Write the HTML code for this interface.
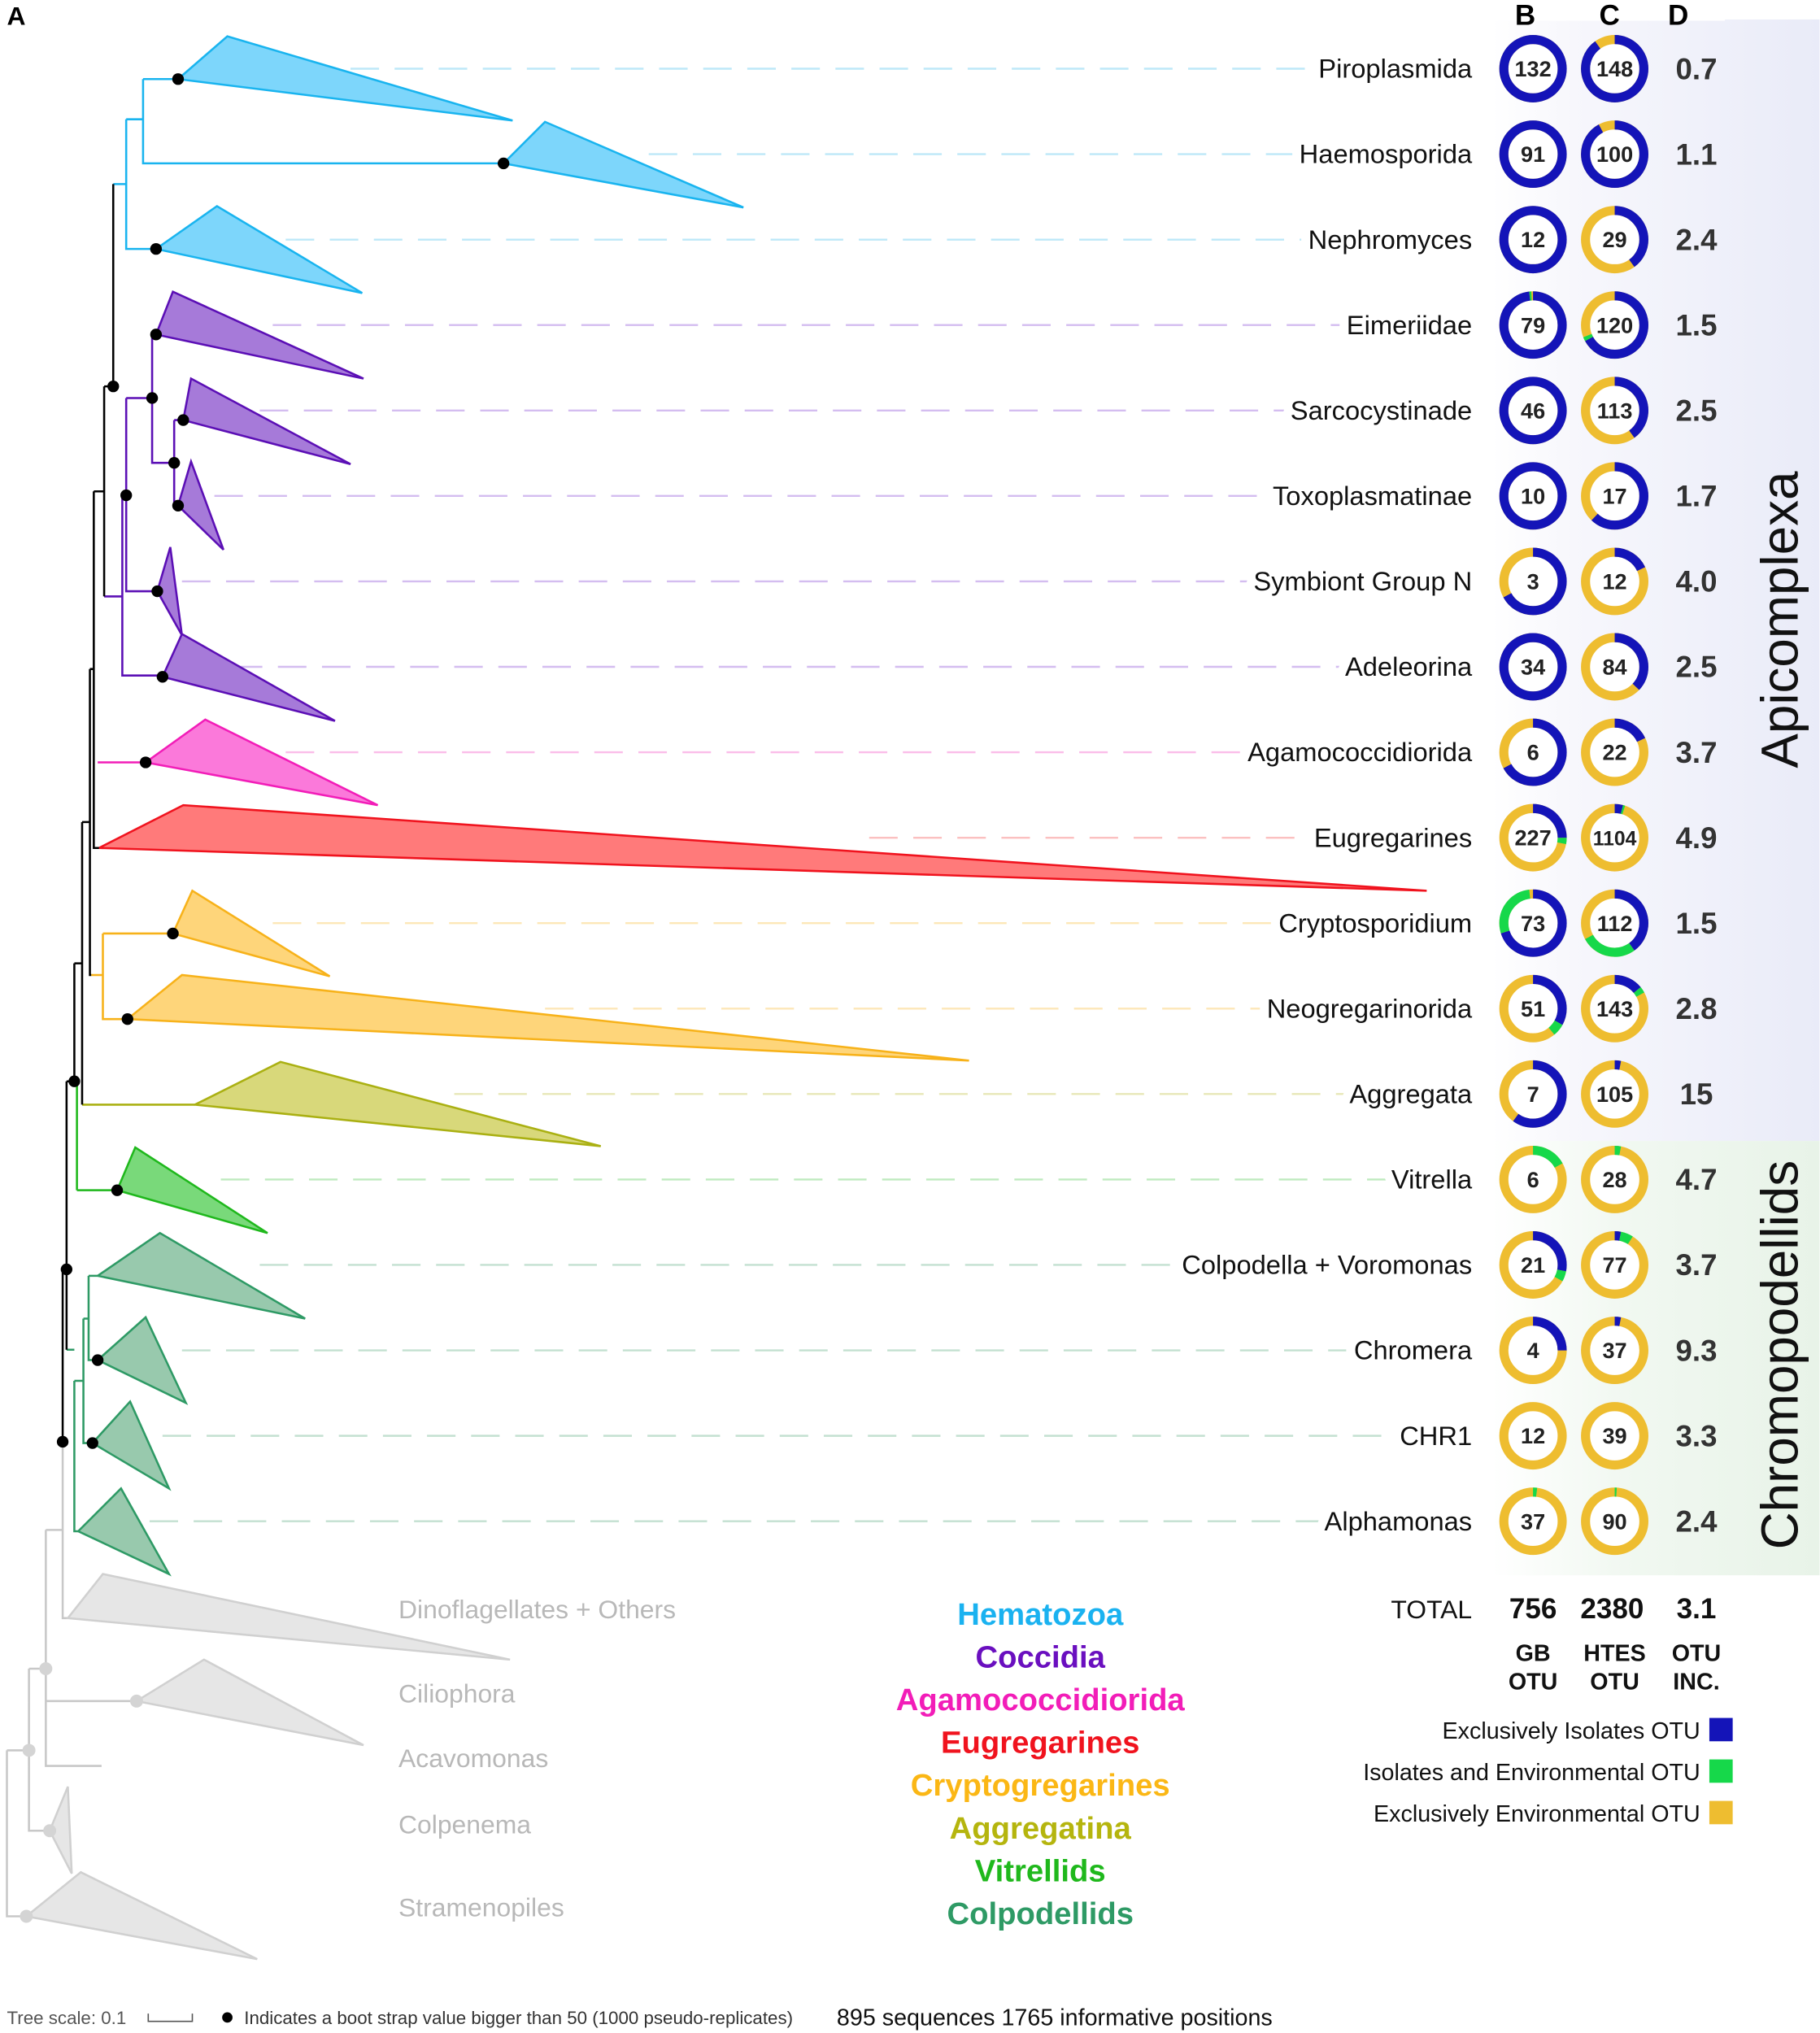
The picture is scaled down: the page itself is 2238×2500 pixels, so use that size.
<!DOCTYPE html>
<html><head><meta charset="utf-8"><style>
html,body{margin:0;padding:0;background:#fff}
svg{display:block}
text{font-family:"Liberation Sans",sans-serif}
</style></head><body>
<svg id="fig" width="2238" height="2500" viewBox="0 0 1403 1568" xmlns="http://www.w3.org/2000/svg">
<defs>
<linearGradient id="gA" x1="0" x2="1"><stop offset="0" stop-color="#fff"/><stop offset="0.25" stop-color="#f7f7fc"/><stop offset="1" stop-color="#e9ebf8"/></linearGradient>
<linearGradient id="gC" x1="0" x2="1"><stop offset="0" stop-color="#fff"/><stop offset="0.4" stop-color="#f1f8f1"/><stop offset="1" stop-color="#e8f3e8"/></linearGradient>
</defs>
<rect x="1150" y="15" width="253" height="865" fill="url(#gA)"/>
<rect x="1150" y="880" width="253" height="335" fill="url(#gC)"/>
<rect x="1150" y="0" width="180" height="16" fill="#fff"/>
<text x="5" y="19" font-size="20" font-weight="bold">A</text>
<text x="1176" y="19" font-size="22" font-weight="bold" text-anchor="middle">B</text>
<text x="1241" y="19" font-size="22" font-weight="bold" text-anchor="middle">C</text>
<text x="1294" y="19" font-size="22" font-weight="bold" text-anchor="middle">D</text>
<text transform="translate(1386,478) rotate(-90)" font-size="40" text-anchor="middle" fill="#111">Apicomplexa</text>
<text transform="translate(1386,1045) rotate(-90)" font-size="40" text-anchor="middle" fill="#111">Chromopodellids</text>

<g id="dashes" stroke-width="1.5" stroke-dasharray="22,12" fill="none"></g>
<g id="tree" fill="none" stroke-width="1.6"></g>
<g id="labels"></g>
<g id="donuts"></g>

<g fill="#b8b8b8" font-size="20">
<text x="307" y="1248">Dinoflagellates + Others</text>
<text x="307" y="1313">Ciliophora</text>
<text x="307" y="1363">Acavomonas</text>
<text x="307" y="1414">Colpenema</text>
<text x="307" y="1478">Stramenopiles</text>
</g>
<g font-size="24" font-weight="bold" text-anchor="middle">
<text x="802" y="1253" fill="#1ab2f0">Hematozoa</text>
<text x="802" y="1286" fill="#6a0fbf">Coccidia</text>
<text x="802" y="1319" fill="#f21db8">Agamococcidiorida</text>
<text x="802" y="1352" fill="#f0131e">Eugregarines</text>
<text x="802" y="1385" fill="#fbb715">Cryptogregarines</text>
<text x="802" y="1418" fill="#b5b50e">Aggregatina</text>
<text x="802" y="1451" fill="#1fb81c">Vitrellids</text>
<text x="802" y="1484" fill="#2e9a65">Colpodellids</text>
</g>
<g fill="#111">
<text x="1135" y="1248" font-size="20" text-anchor="end">TOTAL</text>
<text x="1182" y="1248" font-size="22" font-weight="bold" text-anchor="middle">756</text>
<text x="1243" y="1248" font-size="22" font-weight="bold" text-anchor="middle">2380</text>
<text x="1308" y="1248" font-size="22" font-weight="bold" text-anchor="middle">3.1</text>
<text x="1182" y="1281" font-size="18" font-weight="bold" text-anchor="middle">GB</text>
<text x="1182" y="1303" font-size="18" font-weight="bold" text-anchor="middle">OTU</text>
<text x="1245" y="1281" font-size="18" font-weight="bold" text-anchor="middle">HTES</text>
<text x="1245" y="1303" font-size="18" font-weight="bold" text-anchor="middle">OTU</text>
<text x="1308" y="1281" font-size="18" font-weight="bold" text-anchor="middle">OTU</text>
<text x="1308" y="1303" font-size="18" font-weight="bold" text-anchor="middle">INC.</text>
</g>
<g font-size="18" fill="#111" text-anchor="end">
<text x="1311" y="1341">Exclusively Isolates OTU</text>
<rect x="1318" y="1325" width="18" height="18" fill="#1414b8"/>
<text x="1311" y="1373">Isolates and Environmental OTU</text>
<rect x="1318" y="1357" width="18" height="18" fill="#16d84a"/>
<text x="1311" y="1405">Exclusively Environmental OTU</text>
<rect x="1318" y="1389" width="18" height="18" fill="#eebd30"/>
</g>
<g>
<text x="5" y="1561" font-size="14" fill="#555">Tree scale: 0.1</text>
<path d="M114 1553 V1559 H148 V1553" stroke="#555" fill="none" stroke-width="1"/>
<circle cx="175" cy="1556" r="4" fill="#000"/>
<text x="188" y="1561" font-size="14" fill="#333">Indicates a boot strap value bigger than 50 (1000 pseudo-replicates)</text>
<text x="645" y="1562" font-size="18" fill="#111">895 sequences 1765 informative positions</text>
</g>
</svg>
<script>
const NS="http://www.w3.org/2000/svg";
const clades=["Piroplasmida","Haemosporida","Nephromyces","Eimeriidae","Sarcocystinade","Toxoplasmatinae","Symbiont Group N","Adeleorina","Agamococcidiorida","Eugregarines","Cryptosporidium","Neogregarinorida","Aggregata","Vitrella","Colpodella + Voromonas","Chromera","CHR1","Alphamonas"];
const gbCount=[132,91,12,79,46,10,3,34,6,227,73,51,7,6,21,4,12,37];
const gbBlue=[1,1,1,0.98,1,1,0.67,1,0.67,0.25,0.70,0.33,0.60,0,0.28,0.25,0,0];
const gbGreen=[0,0,0,0.01,0,0,0,0,0,0.03,0.28,0.06,0,0.17,0.05,0,0,0.02];
const htesCount=[148,100,29,120,113,17,12,84,22,1104,112,143,105,28,77,37,39,90];
const htesBlue=[0.9,0.92,0.4,0.67,0.4,0.62,0.18,0.37,0.18,0.04,0.4,0.14,0.03,0,0.03,0.03,0,0];
const htesGreen=[0,0,0,0.02,0,0,0,0,0,0.01,0.27,0.03,0,0.03,0.06,0,0,0.01];
const otuInc=["0.7","1.1","2.4","1.5","2.5","1.7","4.0","2.5","3.7","4.9","1.5","2.8","15","4.7","3.7","9.3","3.3","2.4"];
const cladeColor=["#19b4ef","#19b4ef","#19b4ef","#5b0fb5","#5b0fb5","#5b0fb5","#5b0fb5","#5b0fb5","#f21db8","#f0131e","#f7b21a","#f7b21a","#aab012","#1fb81c","#2e9a65","#2e9a65","#2e9a65","#2e9a65"];
const cladeFill=["#7dd6fb","#7dd6fb","#7dd6fb","#a67ad9","#a67ad9","#a67ad9","#a67ad9","#a67ad9","#fb79da","#ff7a7a","#fed57a","#fed57a","#d8d87a","#79d97a","#98c9ad","#98c9ad","#98c9ad","#98c9ad"];
const tri=[[137,61,175,28,395,93],[388,126,420,94,573,160],[120,192,167,159,279,226],[120,258,133,225,280,292],[141,324,147,292,270,358],[137,390,147,356,172,424],[121,456,131,422,140,490],[125,522,140,489,258,556],[112,588,158,555,291,621],[76,654,141,621,1100,687],[133,720,148,687,254,753],[98,786,140,752,747,818],[150,852,216,819,463,884],[90,918,104,885,206,951],[75,984,123,951,235,1017],[75,1049,112,1016,143,1082],[71,1113,100,1081,130,1148],[60,1181,93,1148,130,1214]];
const dashStart=[270,500,220,210,200,165,140,180,220,670,210,420,350,170,200,140,125,115];
const rowY=i=>53+i*65.9;
function mk(tag,attrs,parent){const e=document.createElementNS(NS,tag);for(const k in attrs)e.setAttribute(k,attrs[k]);parent.appendChild(e);return e;}
const dg=document.getElementById('dashes'),tg=document.getElementById('tree'),lg=document.getElementById('labels'),dn=document.getElementById('donuts');
const light=["#bde8f8","#bde8f8","#bde8f8","#d4bdf0","#d4bdf0","#d4bdf0","#d4bdf0","#d4bdf0","#fbbde9","#fbc0c0","#fde7b8","#fde7b8","#e8e8b8","#bfeabf","#c3e0d1","#c3e0d1","#c3e0d1","#c3e0d1"];
clades.forEach((c,i)=>{
  const y=rowY(i);
  const dl=mk('line',{x1:dashStart[i],y1:y,x2:1130,y2:y,stroke:light[i]},dg);
  
  
  const t=tri[i];
  const p=mk('polygon',{points:`${t[0]},${t[1]} ${t[2]},${t[3]} ${t[4]},${t[5]}`,fill:cladeFill[i],stroke:cladeColor[i],'stroke-width':1.6},tg);
  
  
  const lt=mk('text',{x:1135,y:y+7,'font-size':20.5,'text-anchor':'end',fill:'#111',stroke:'#fff','stroke-width':14,'paint-order':'stroke','stroke-linejoin':'round'},lg);
  lt.textContent=c;
  
  
  const dt=mk('text',{x:1308,y:y+8,'font-size':23,'font-weight':'bold','text-anchor':'middle',fill:'#333'},lg);
  dt.textContent=otuInc[i];
  
  
  [[1182,gbCount,gbBlue,gbGreen],[1245,htesCount,htesBlue,htesGreen]].forEach(([cx,cnt,bl,gr])=>{
    const r=22.5,C=2*Math.PI*r;
    const g=mk('g',{transform:`translate(${cx},${y})`},dn);
    
    
    mk('circle',{r:r,fill:'#fff',stroke:'#eebd30','stroke-width':7},g);
    if(bl[i]>0)mk('circle',{r:r,fill:'none',stroke:'#1414b8','stroke-width':7,'stroke-dasharray':`${bl[i]*C} ${C}`,transform:'rotate(-90)'},g);
    if(gr[i]>0)mk('circle',{r:r,fill:'none',stroke:'#16d84a','stroke-width':7,'stroke-dasharray':`${gr[i]*C} ${C}`,'stroke-dashoffset':-bl[i]*C,transform:'rotate(-90)'},g);
    const nt=mk('text',{y:6,'font-size':cnt[i]>999?15.5:17,'font-weight':'bold','text-anchor':'middle',fill:'#222'},g);
    nt.textContent=cnt[i];
  });
});
const branches=[
["#19b4ef","M110 61 H137 M110 61 V126 H388 M97 92 H110 M97 92 V192 H120 M87 142 H97"],
["#5b0fb5","M117 258 H120 M117 258 V357 H134 M134 324 H141 M134 324 V390 H137 M97 307 H117 M97 307 V456 H121 M94 382 H97 M94 382 V521 H125 M80 460 H94"],
["#f21db8","M75 588 H112"],
["#f7b21a","M79 720 H133 M79 720 V786 H98 M70 752 H79"],
["#aab012","M63 852 H150"],
["#1fb81c","M59 918 H90 M59 834 V918"],
["#2e9a65","M68 984 H75 M68 984 V1049 H75 M64 1017 H68 M64 1017 V1113 H71 M57 1065 H64 M57 1065 V1181 H60 M51 1041 H57"],
["#000","M87 142 V298 M80 298 H87 M80 298 V460 M72 379 H80 M72 379 V654 H76 M69 516 H72 M69 516 V752 H70 M63 634 H69 M63 634 V852 M57 743 H63 M57 743 V834 H59 M51 834 H57 M51 834 V1041 M48 979 H51 M48 979 V1112"],
["#c8c8c8","M48 1112 V1248 H52 M35 1180 H48 M35 1180 V1362 H78 M35 1312 H105 M22 1287 H35 M22 1287 V1412 H38 M5 1350 H22 M5 1350 V1478 H20"]
];
branches.forEach(([col,d],k)=>{const p=mk('path',{d:d,stroke:col},tg);});
[[79,1214,393,1280,52,1248],[157,1280,280,1346,105,1312],[52,1378,55,1445,38,1412],[62,1444,198,1511,20,1478]].forEach((t,k)=>{
  const p=mk('polygon',{points:`${t[4]},${t[5]} ${t[0]},${t[1]} ${t[2]},${t[3]}`,fill:'#e6e6e6',stroke:'#d0d0d0'},tg);
  
  
});
const dots=[[137,61],[388,126],[120,192],[87,298],[120,258],[117,307],[141,324],[134,357],[137,390],[97,382],[121,456],[125,522],[112,588],[133,720],[98,786],[57,834],[90,918],[51,979],[75,1049],[71,1113],[48,1112]];
dots.forEach(([x,y])=>{const c=mk('circle',{cx:x,cy:y,r:4.5,fill:'#000'},tg);});
[[35,1287],[22,1350],[38,1412],[20,1478],[105,1312]].forEach(([x,y])=>{const c=mk('circle',{cx:x,cy:y,r:5,fill:'#d4d4d4'},tg);});
</script>
</body></html>
